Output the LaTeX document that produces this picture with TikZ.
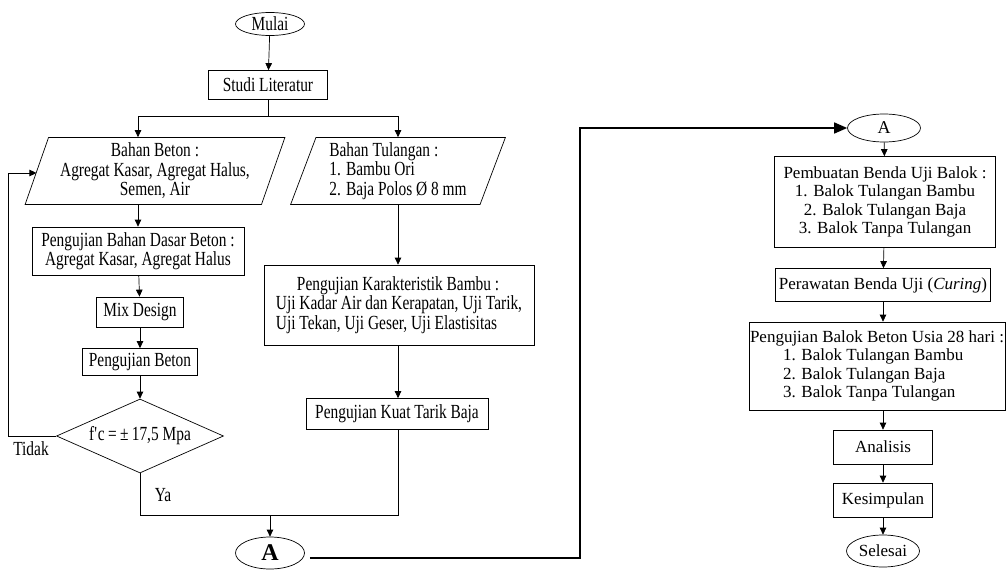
\documentclass[tikz,border=0pt]{standalone}
\usepackage{fontspec}
\setmainfont{Liberation Serif}
\newfontfamily\narrowserif{Liberation Serif}[FakeStretch=0.77]
\usetikzlibrary{arrows.meta,shapes.geometric,calc}

\begin{document}
\begin{tikzpicture}[x=1pt,y=-1pt,line width=0.7pt,
  >={Triangle[length=7pt,width=6.5pt]},
  lft/.style={font=\narrowserif\fontsize{20}{19.5}\selectfont},
  rgt/.style={font=\fontsize{17}{18.5}\selectfont},
  box/.style={draw,rectangle,inner sep=1pt},
  term/.style={draw,ellipse,inner sep=0pt},
  data/.style={draw,trapezium,trapezium left angle=70,trapezium right angle=110,
    trapezium stretches=true,inner sep=1pt},
  cond/.style={draw,diamond,aspect=2.26,inner sep=0pt},
  link/.style={line width=1.6pt,-{Triangle[length=13pt,width=11pt]}}]
  \useasboundingbox (0,0) rectangle (1006,570);
  % left part
  \node[term,lft,minimum width=69,minimum height=23] (mulai) at (270,24) {Mulai};
  \node[box,lft,minimum width=119,minimum height=29] (studi) at (268,85) {Studi Literatur};
  \node[data,lft,align=center,minimum width=260,minimum height=67] (beton) at (155,171)
    {Bahan Beton :\\Agregat Kasar, Agregat Halus,\\Semen, Air};
  \node[data,lft,align=left,minimum width=215,minimum height=67] (tulangan) at (398,171)
    {Bahan Tulangan :\\1. Bambu Ori\\2. Baja Polos Ø 8 mm};
  \node[box,lft,align=center,minimum width=212,minimum height=48] (dasar) at (138,251)
    {Pengujian Bahan Dasar Beton :\\Agregat Kasar, Agregat Halus};
  \node[box,lft,minimum width=87,minimum height=30] (mix) at (140,312) {Mix Design};
  \node[box,lft,minimum width=115,minimum height=27] (uji) at (140,362) {Pengujian Beton};
  \node[cond,lft,minimum width=167,minimum height=74] (cek) at (140,436) {f\textquotesingle c\,=\,±\,17,5 Mpa};
  \node[lft] (tidak) at (31,449) {Tidak};
  \node[lft] (ya) at (163,495) {Ya};
  \node[box,lft,align=left,minimum width=270,minimum height=80] (bambu) at (399,305)
    {\hspace*{21pt}Pengujian Karakteristik Bambu :\\Uji Kadar Air dan Kerapatan, Uji Tarik,\\Uji Tekan, Uji Geser, Uji Elastisitas};
  \node[box,lft,minimum width=182,minimum height=31] (baja) at (397,414) {Pengujian Kuat Tarik Baja};
  \node[term,minimum width=69,minimum height=32,font=\fontsize{24}{24}\selectfont\bfseries] (a1) at (270,553) {A};
  \coordinate (split) at (268,116);
  \coordinate (fb) at (8,173);
  \coordinate (join) at (270,515);
  \coordinate (bend) at (580,558);
  \draw[->] (mulai) -- (studi);
  \draw (studi) -- (split);
  \draw[->] (split) -| (dasar.north |- beton.north);
  \draw[->] (split) -| (tulangan.north);
  \draw[->] (dasar.north |- beton.south) -- (dasar.north);
  \draw[->] (dasar) -- (mix);
  \draw[->] (mix) -- (uji);
  \draw[->] (uji) -- (cek);
  \draw[->] (cek.west) -| (fb) -- (fb -| beton.west);
  \draw[->] (tulangan.south) -- (tulangan.south |- bambu.north);
  \draw[->] (tulangan.south |- bambu.south) -- (tulangan.south |- baja.north);
  \draw (cek.south) |- (join -| tulangan.south) -- (tulangan.south |- baja.south);
  \draw[->] (join) -- (a1);
  % right part
  \node[term,minimum width=73,minimum height=28,font=\fontsize{18}{18}\selectfont] (a2) at (884,128) {A};
  \node[box,rgt,align=center,minimum width=221,minimum height=91] (buat) at (885,202)
    {Pembuatan Benda Uji Balok :\\1. Balok Tulangan Bambu\\2. Balok Tulangan Baja\\3. Balok Tanpa Tulangan};
  \node[box,rgt,minimum width=215,minimum height=33] (rawat) at (883,285) {Perawatan Benda Uji (\textit{Curing})};
  \node[box,rgt,align=left,minimum width=255,minimum height=88] (balok) at (877,366)
    {Pengujian Balok Beton Usia 28 hari :\\\hspace*{33pt}1. Balok Tulangan Bambu\\\hspace*{33pt}2. Balok Tulangan Baja\\\hspace*{33pt}3. Balok Tanpa Tulangan};
  \node[box,rgt,minimum width=99,minimum height=34] (analisis) at (883,447) {Analisis};
  \node[box,rgt,minimum width=99,minimum height=34] (simpul) at (883,500) {Kesimpulan};
  \node[term,rgt,minimum width=73,minimum height=32] (selesai) at (883,551) {Selesai};
  \draw[link] ([shift={(5,5)}]a1.east) -- (bend) |- (a2.west);
  \draw[->] (a2) -- (buat);
  \draw[->] (buat) -- (rawat);
  \draw[->] (rawat.south) -- (rawat.south |- balok.north);
  \draw[->] (rawat.south |- balok.south) -- (analisis);
  \draw[->] (analisis) -- (simpul);
  \draw[->] (simpul) -- (selesai);
\end{tikzpicture}
\end{document}
